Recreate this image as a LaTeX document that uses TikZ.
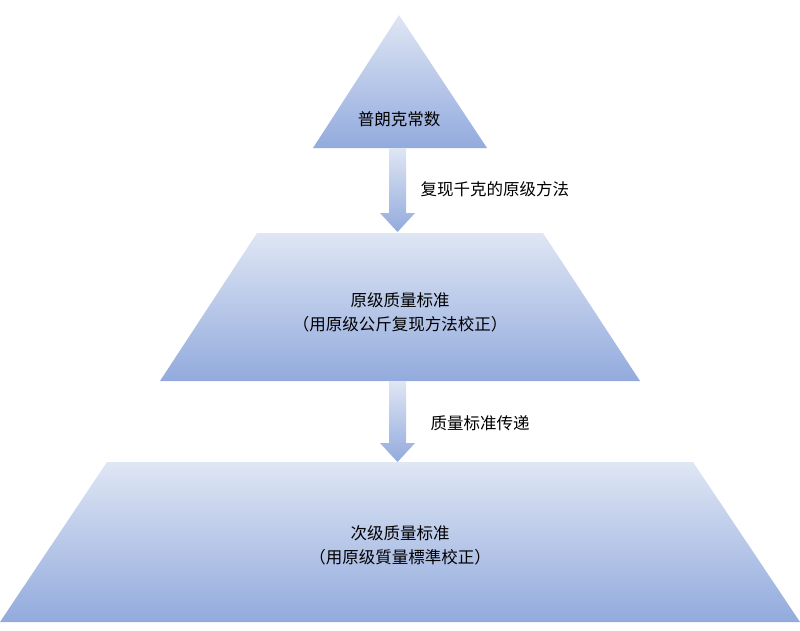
\documentclass[tikz,border=0pt]{standalone}
\usepackage{fontspec}
\setmainfont{Noto Sans CJK SC}
\begin{document}
\begin{tikzpicture}[x=1pt,y=-1pt,
  shp/.style={top color=top,bottom color=bot,draw=none},
  lbl/.style={font=\fontsize{16.5}{24}\selectfont,align=center,text=black}]
\definecolor{top}{HTML}{DFE6F4}
\definecolor{bot}{HTML}{92AADD}
\useasboundingbox (0,0) rectangle (800,630);
\path[shp] (399,15) -- (487,148) -- (313,148) -- cycle;
\path[shp] (257,233) -- (543,233) -- (640,381) -- (160,381) -- cycle;
\path[shp] (107,462) -- (693,462) -- (800,622) -- (0,622) -- cycle;
\path[shp] (389,148) -- (406,148) -- (406,213) -- (415,213) -- (397.5,232) -- (380,213) -- (389,213) -- cycle;
\path[shp] (389,381) -- (406,381) -- (406,443) -- (415,443) -- (397.5,462) -- (380,443) -- (389,443) -- cycle;
\node[lbl] (n1) at (399,119) {普朗克常数};
\node[lbl] (n2) at (400,312) {原级质量标准\\（用原级公斤复现方法校正）};
\node[lbl] (n3) at (400,545) {次级质量标准\\（用原级質量標準校正）};
\node[lbl,anchor=west] (l1) at (417,189) {复现千克的原级方法};
\node[lbl,anchor=west] (l2) at (427,423) {质量标准传递};
\end{tikzpicture}
\end{document}
